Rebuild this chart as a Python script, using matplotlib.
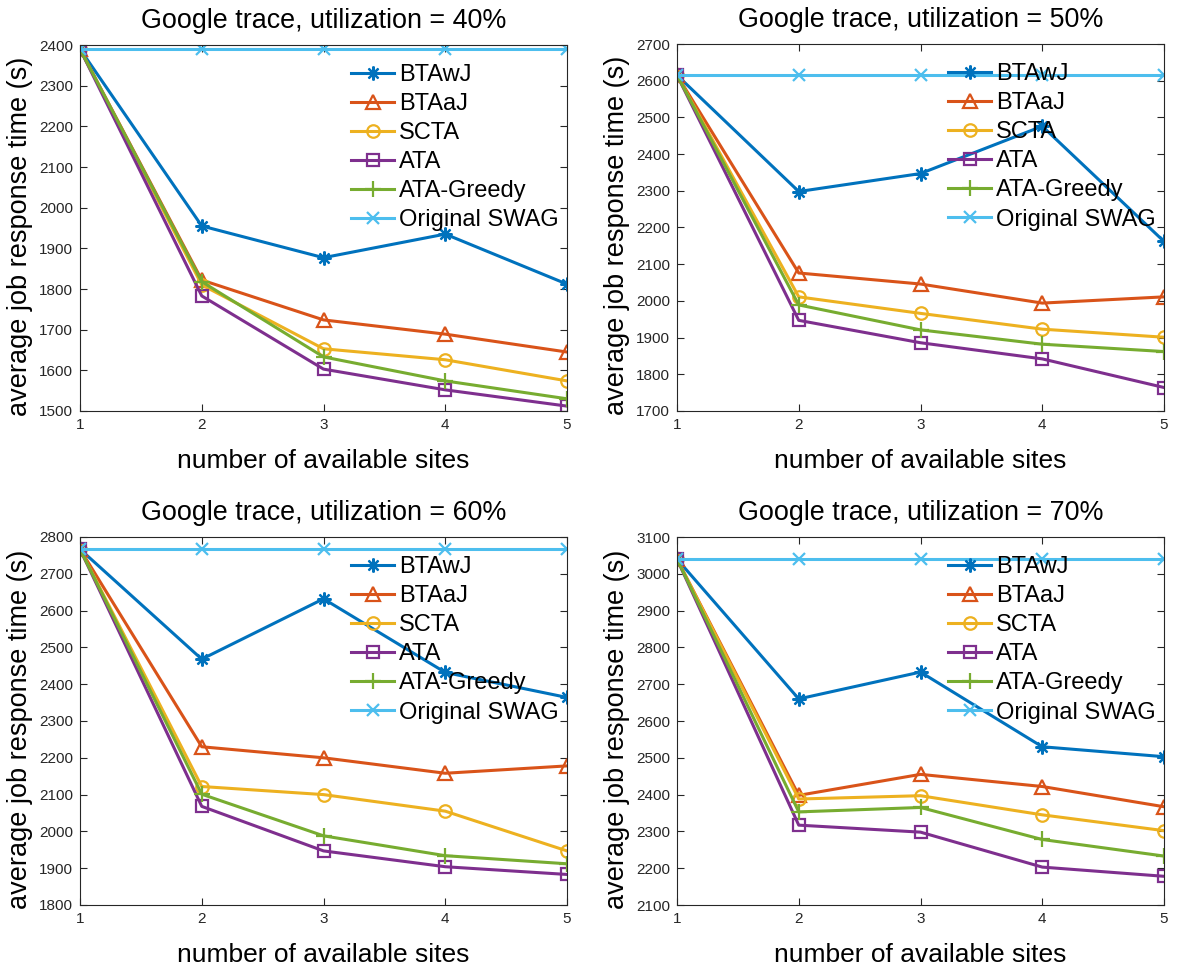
import matplotlib
matplotlib.use("Agg")
import matplotlib.pyplot as plt
import numpy as np

plt.rcParams['font.family'] = ['Liberation Sans', 'DejaVu Sans']

sites = [1, 2, 3, 4, 5]
methods = ['BTAwJ', 'BTAaJ', 'SCTA', 'ATA', 'ATA-Greedy', 'Original SWAG']
utilizations = [40, 50, 60, 70]

# average job response time (s) per utilization, one list per method
u40 = {
    'BTAwJ':         [2390, 1955, 1877, 1935, 1812],
    'BTAaJ':         [2390, 1822, 1724, 1689, 1645],
    'SCTA':          [2390, 1810, 1653, 1626, 1574],
    'ATA':           [2390, 1783, 1603, 1552, 1512],
    'ATA-Greedy':    [2390, 1818, 1633, 1574, 1530],
    'Original SWAG': [2390, 2390, 2390, 2390, 2390],
}
u50 = {
    'BTAwJ':         [2615, 2298, 2347, 2476, 2162],
    'BTAaJ':         [2615, 2076, 2046, 1994, 2011],
    'SCTA':          [2615, 2011, 1966, 1923, 1901],
    'ATA':           [2615, 1947, 1886, 1842, 1764],
    'ATA-Greedy':    [2615, 1989, 1921, 1882, 1862],
    'Original SWAG': [2615, 2615, 2615, 2615, 2615],
}
u60 = {
    'BTAwJ':         [2767, 2468, 2632, 2432, 2364],
    'BTAaJ':         [2767, 2230, 2200, 2158, 2178],
    'SCTA':          [2767, 2122, 2100, 2055, 1947],
    'ATA':           [2767, 2068, 1947, 1904, 1883],
    'ATA-Greedy':    [2767, 2101, 1988, 1934, 1912],
    'Original SWAG': [2767, 2767, 2767, 2767, 2767],
}
u70 = {
    'BTAwJ':         [3040, 2660, 2733, 2530, 2503],
    'BTAaJ':         [3040, 2398, 2455, 2422, 2367],
    'SCTA':          [3040, 2388, 2397, 2345, 2302],
    'ATA':           [3040, 2317, 2298, 2203, 2178],
    'ATA-Greedy':    [3040, 2353, 2365, 2278, 2233],
    'Original SWAG': [3040, 3040, 3040, 3040, 3040],
}
data = [u40, u50, u60, u70]
ylims = [(1500, 2400), (1700, 2700), (1800, 2800), (2100, 3100)]

colors = ['#0072BD', '#D95319', '#EDB120', '#7E2F8E', '#77AC30', '#4DBEEE']
markers = [(8, 2, 0), '^', 'o', 's', '+', 'x']
msizes = [10, 10, 9, 8, 11, 9]

fig = plt.figure(figsize=(11.77, 9.67), dpi=100)
W, H = 1177, 967
# axes boxes in pixels: left, top, right, bottom
boxes = [(80, 45, 567, 411), (677, 44, 1164, 411),
         (80, 537, 567, 905), (677, 537, 1164, 905)]

for k, (l, t, r, b) in enumerate(boxes):
    ax = fig.add_axes([l / W, 1 - b / H, (r - l) / W, (b - t) / H])
    for m, c, mk, ms in zip(methods, colors, markers, msizes):
        ax.plot(sites, data[k][m], color=c, marker=mk, markersize=ms,
                markerfacecolor='none', markeredgewidth=1.6, linewidth=2.2,
                label=m)
    ax.set_xlim(1, 5)
    ax.set_ylim(*ylims[k])
    ax.set_xticks(sites)
    ax.set_yticks(np.arange(ylims[k][0], ylims[k][1] + 1, 100))
    ax.tick_params(direction='in', top=True, right=True, labelsize=11,
                   colors='#262626', length=5, pad=5)
    for s in ax.spines.values():
        s.set_color('#262626')
        s.set_linewidth(0.8)
    ax.set_title('Google trace, utilization = %d%%' % utilizations[k],
                 fontsize=19.4, pad=12)
    ax.set_xlabel('number of available sites', fontsize=19, labelpad=12)
    ax.set_ylabel('average job response time (s)', fontsize=19.5)
    ax.yaxis.set_label_coords(-0.096, 0.478)
    ax.legend(loc='upper left', bbox_to_anchor=(0.556, 0.948), frameon=False,
              fontsize=17, handlelength=1.85, handletextpad=0.2,
              labelspacing=0.3, borderpad=0, borderaxespad=0)

fig.savefig('out.png', dpi=100)
